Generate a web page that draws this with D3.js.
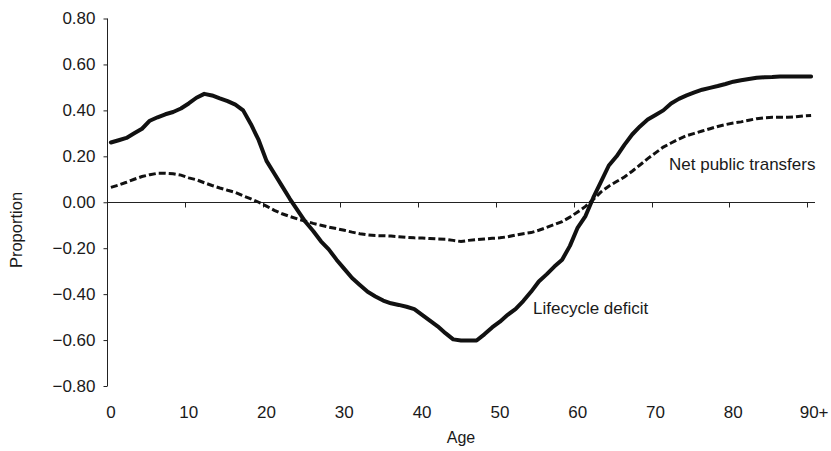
<!DOCTYPE html>
<html>
<head>
<meta charset="utf-8">
<script src="https://cdn.jsdelivr.net/npm/d3@7"></script>
<style>
  html, body { margin: 0; padding: 0; background: #fff; }
  svg { display: block; }
  text { font-family: "Liberation Sans", Arial, Helvetica, sans-serif; fill: #1a1a1a; }
</style>
</head>
<body>
<svg id="chart" width="831" height="451"></svg>
<script>
const ages = d3.range(0, 91);
const xTickLabels = ["0", "10", "20", "30", "40", "50", "60", "70", "80", "90+"];
const yTicks = [0.8, 0.6, 0.4, 0.2, 0.0, -0.2, -0.4, -0.6, -0.8];

const lifecycleDeficit = [
  0.26, 0.27, 0.28, 0.30, 0.32, 0.355, 0.37, 0.383, 0.393, 0.408,
  0.43, 0.455, 0.472, 0.465, 0.452, 0.44, 0.425, 0.40, 0.34, 0.27,
  0.18, 0.125, 0.07, 0.015, -0.035, -0.085, -0.125, -0.17, -0.205, -0.25,
  -0.29, -0.33, -0.36, -0.39, -0.41, -0.428, -0.44, -0.447, -0.455, -0.465,
  -0.49, -0.515, -0.54, -0.57, -0.597, -0.602, -0.602, -0.602, -0.575, -0.545,
  -0.52, -0.49, -0.465, -0.43, -0.39, -0.345, -0.314, -0.28, -0.25, -0.19,
  -0.11, -0.06, 0.02, 0.09, 0.16, 0.20, 0.25, 0.295, 0.33, 0.36,
  0.38, 0.40, 0.43, 0.45, 0.465, 0.478, 0.49, 0.498, 0.506, 0.515,
  0.525, 0.531, 0.537, 0.542, 0.544, 0.545, 0.547, 0.548, 0.548, 0.548,
  0.548
];

const netPublicTransfers = [
  0.065, 0.075, 0.087, 0.10, 0.112, 0.12, 0.126, 0.126, 0.124, 0.118,
  0.106, 0.098, 0.085, 0.073, 0.062, 0.052, 0.043, 0.028, 0.015, 0.0,
  -0.017, -0.035, -0.05, -0.062, -0.073, -0.082, -0.092, -0.10, -0.108, -0.115,
  -0.122, -0.13, -0.137, -0.142, -0.145, -0.146, -0.147, -0.15, -0.153, -0.155,
  -0.156, -0.158, -0.16, -0.161, -0.166, -0.171, -0.166, -0.163, -0.16, -0.157,
  -0.155, -0.15, -0.143, -0.137, -0.132, -0.122, -0.11, -0.097, -0.084, -0.065,
  -0.042, -0.018, 0.012, 0.045, 0.07, 0.09, 0.11, 0.135, 0.162, 0.19,
  0.215, 0.24, 0.258, 0.275, 0.29, 0.30, 0.31, 0.32, 0.33, 0.338,
  0.345, 0.35, 0.357, 0.364, 0.368, 0.37, 0.37, 0.37, 0.372, 0.376,
  0.378
];

const svg = d3.select("#chart");
const x = d3.scaleBand().domain(ages).range([107, 815]).padding(0);
const y = d3.scaleLinear().domain([-0.8, 0.8]).range([386, 18.5]);
const cx = a => x(a) + x.bandwidth() / 2;
const fmt = v => (v < 0 ? "\u2212" : "") + Math.abs(v).toFixed(2);

// Y axis
const yAxis = d3.axisLeft(y).tickValues(yTicks).tickSize(4).tickFormat(fmt);
const gy = svg.append("g").attr("transform", "translate(107.5,0)").call(yAxis);
gy.select(".domain").attr("stroke", "#222").attr("d", `M0,${y(0.8)}V${y(-0.8)}`);
gy.selectAll(".tick line").attr("stroke", "#222");
gy.selectAll(".tick text").attr("x", -12).style("font-size", "17px")
  .style("font-family", "'Liberation Sans', Arial, sans-serif").attr("fill", "#1a1a1a");

// X axis along zero line
const tickAges = [0, 10, 20, 30, 40, 50, 60, 70, 80, 90];
const gx = svg.append("g").attr("transform", `translate(0,${Math.round(y(0)) + 0.5})`);
gx.append("line").attr("x1", 107).attr("x2", x.range()[1]).attr("y1", 0).attr("y2", 0).attr("stroke", "#222");
gx.selectAll("line.tk").data(tickAges).join("line").attr("class", "tk")
  .attr("x1", d => Math.round(x(d)) + 0.5).attr("x2", d => Math.round(x(d)) + 0.5)
  .attr("y1", 0).attr("y2", 5).attr("stroke", "#222");

// X tick labels at the bottom
svg.append("g").selectAll("text").data(tickAges).join("text")
  .attr("x", d => cx(d) + (d === 90 ? 3 : 0))
  .attr("y", 418)
  .attr("text-anchor", "middle")
  .style("font-size", "17px")
  .text((d, i) => xTickLabels[i]);

// Axis titles
svg.append("text").attr("x", 461).attr("y", 443).attr("text-anchor", "middle")
  .style("font-size", "16px").text("Age");
svg.append("text").attr("transform", "translate(22,230) rotate(-90)")
  .attr("text-anchor", "middle").style("font-size", "16.5px").text("Proportion");

// Lines
const line = d3.line().x((d, i) => cx(ages[i])).y(d => y(d));
svg.append("path").datum(netPublicTransfers).attr("d", line)
  .attr("fill", "none").attr("stroke", "#111").attr("stroke-width", 3)
  .attr("stroke-dasharray", "7,3");
svg.append("path").datum(lifecycleDeficit).attr("d", line)
  .attr("fill", "none").attr("stroke", "#111").attr("stroke-width", 4)
  .attr("stroke-linejoin", "round").attr("stroke-linecap", "round");

// Series labels
svg.append("text").attr("x", 669).attr("y", 170).style("font-size", "17px").text("Net public transfers");
svg.append("text").attr("x", 533).attr("y", 314).style("font-size", "17px").text("Lifecycle deficit");
</script>
</body>
</html>
